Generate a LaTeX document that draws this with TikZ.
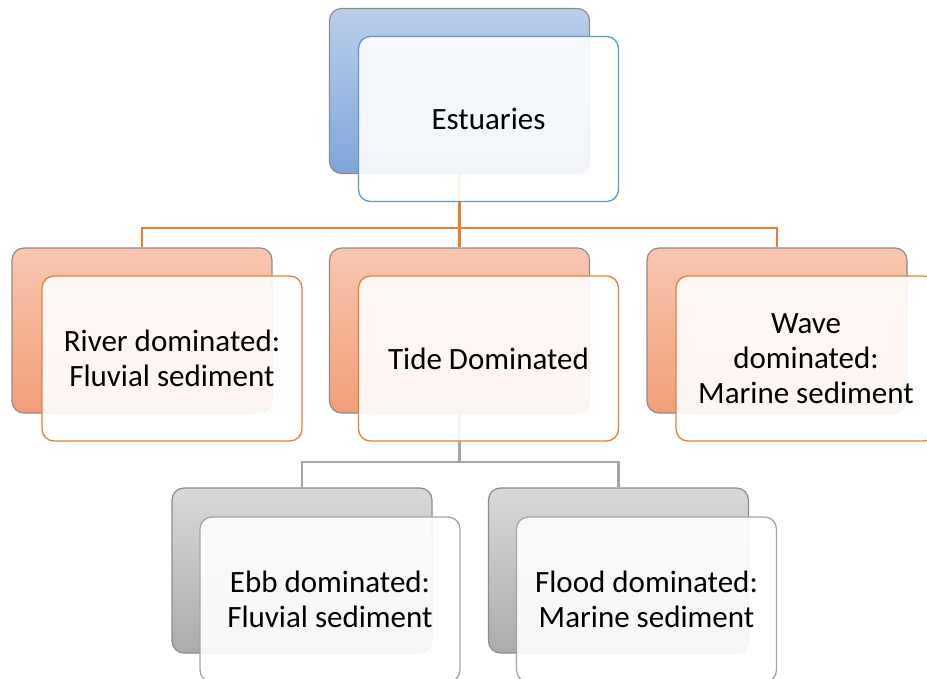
\documentclass[tikz,border=0pt]{standalone}
\usepackage{fontspec}
\setmainfont{Carlito}
\usepackage{tikz}
\usetikzlibrary{positioning,backgrounds}

\definecolor{bluetop}{HTML}{B9CFEB}
\definecolor{bluebot}{HTML}{7FA6DA}
\definecolor{blueline}{HTML}{5B9BD5}
\definecolor{orangetop}{HTML}{F8C7B0}
\definecolor{orangebot}{HTML}{F29E78}
\definecolor{orangeline}{HTML}{ED7D31}
\definecolor{graytop}{HTML}{D9D9D9}
\definecolor{graybot}{HTML}{ABABAB}
\definecolor{grayline}{HTML}{A5A5A5}

\begin{document}
\begin{tikzpicture}[x=1pt, y=-1pt,
    every node/.style={rounded corners=12pt, minimum width=260pt, minimum height=165pt,
        inner sep=0pt, align=center, font=\fontsize{31}{35}\selectfont},
    backbox/.style 2 args={draw=black!45, line width=1.2pt, top color=#1, bottom color=#2},
    frontbox/.style={draw=#1, line width=1.3pt, fill=white, fill opacity=0.9, text opacity=1},
    orangelink/.style={draw=orangeline, line width=2.5pt},
    graylink/.style={draw=grayline, line width=2.5pt}
]
\useasboundingbox (0,0) rectangle (927,679);

% back boxes
\node[backbox={bluetop}{bluebot}] (estB) at (459.5,91) {};
\node[backbox={orangetop}{orangebot}] (riverB) at (142,330.5) {};
\node[backbox={orangetop}{orangebot}] (tideB) at (459.5,330.5) {};
\node[backbox={orangetop}{orangebot}] (waveB) at (777,330.5) {};
\node[backbox={graytop}{graybot}] (ebbB) at (302,570.5) {};
\node[backbox={graytop}{graybot}] (floodB) at (618.5,570.5) {};

% connectors
\begin{scope}[on background layer]
\coordinate (busA) at (459.5,228);
\coordinate (busB) at (459.5,462);
\draw[orangelink] (estB.south) -- (busA) -| (riverB.north);
\draw[orangelink] (busA) -| (waveB.north);
\draw[orangelink] (busA) -- (tideB.north);
\draw[graylink] (tideB.south) -- (busB) -| (ebbB.north);
\draw[graylink] (busB) -| (floodB.north);
\end{scope}

% front boxes
\node[frontbox=blueline] (est) at ([shift={(29,28)}]estB.center) {Estuaries};
\node[frontbox=orangeline] (river) at ([shift={(30,28)}]riverB.center) {River dominated:\\Fluvial sediment};
\node[frontbox=orangeline] (tide) at ([shift={(29,28)}]tideB.center) {Tide Dominated};
\node[frontbox=orangeline] (wave) at ([shift={(29,28)}]waveB.center) {Wave\\dominated:\\Marine sediment};
\node[frontbox=grayline] (ebb) at ([shift={(28,29)}]ebbB.center) {Ebb dominated:\\Fluvial sediment};
\node[frontbox=grayline] (flood) at ([shift={(28,29)}]floodB.center) {Flood dominated:\\Marine sediment};
\end{tikzpicture}
\end{document}
